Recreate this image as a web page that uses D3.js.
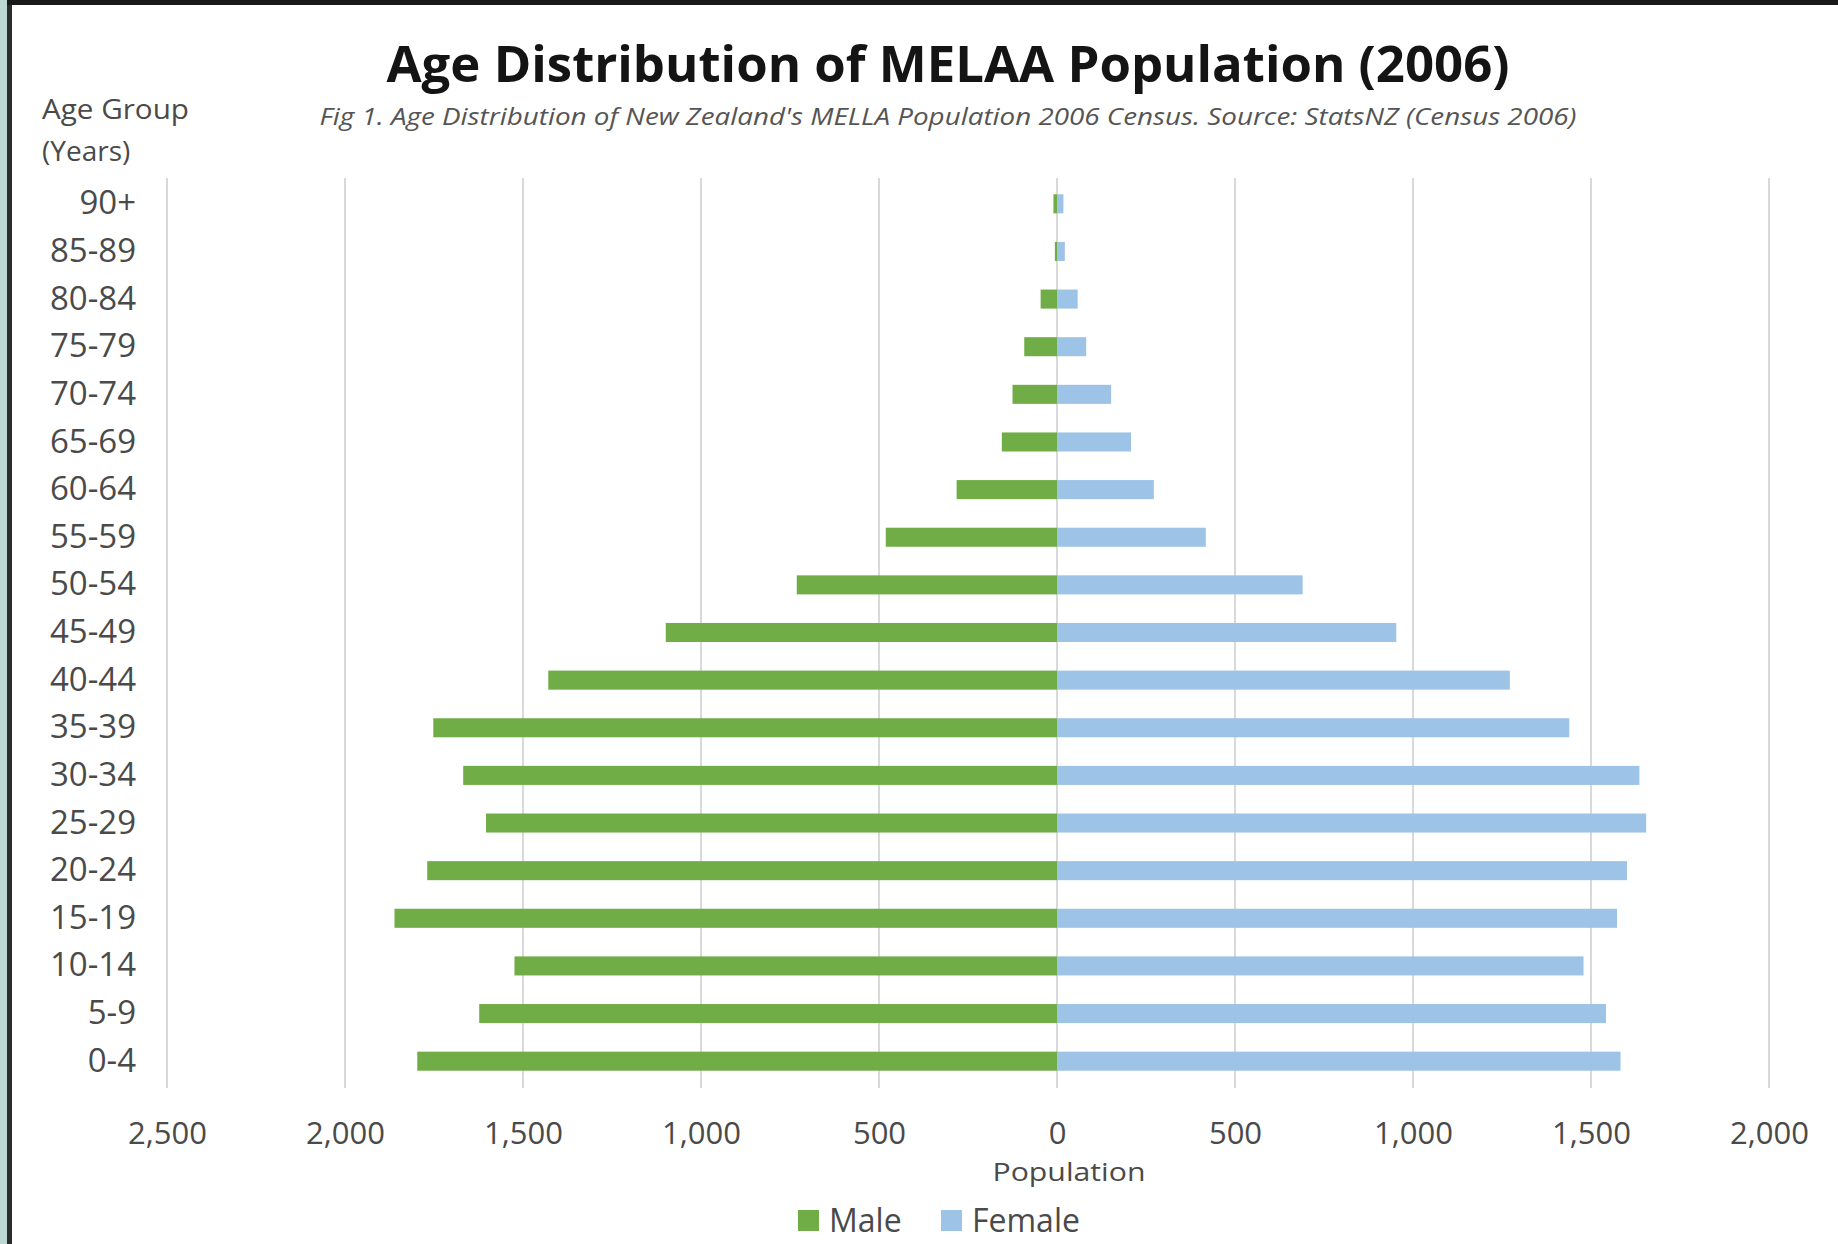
<!DOCTYPE html>
<html>
<head>
<meta charset="utf-8">
<script src="https://d3js.org/d3.v7.min.js"></script>
<style>
    body { margin: 0; background: #fff; }
    svg text { font-family: "Open Sans", sans-serif; }
</style>
</head>
<body>
<svg id="chart" width="1838" height="1244"></svg>
<script>
'use strict';

let MALE_COLOR = "#70AD47",
    FEMALE_COLOR = "#9DC3E6",
    TEXT_COLOR = "#4a4a4a";

// age groups, top of chart first
let ageGroups = ["90+", "85-89", "80-84", "75-79", "70-74", "65-69", "60-64", "55-59", "50-54",
    "45-49", "40-44", "35-39", "30-34", "25-29", "20-24", "15-19", "10-14", "5-9", "0-4"];
let male = [10, 6, 46, 92, 125, 155, 282, 481, 731, 1099, 1429, 1752, 1668, 1604, 1769, 1861, 1524, 1623, 1797];
let female = [18, 22, 58, 82, 152, 208, 272, 418, 690, 953, 1272, 1439, 1636, 1655, 1601, 1573, 1479, 1542, 1583];
let xTicks = [-2500, -2000, -1500, -1000, -500, 0, 500, 1000, 1500, 2000];

let svg = d3.select("#chart");

// frame round the picture
svg.append("rect").attr("x", 0).attr("y", 0).attr("width", 7).attr("height", 1244).attr("fill", "#bcd9d4");
svg.append("rect").attr("x", 7).attr("y", 0).attr("width", 5).attr("height", 1244).attr("fill", "#2b2b2b");
svg.append("rect").attr("x", 7).attr("y", 0).attr("width", 1831).attr("height", 5).attr("fill", "#1a1a1a");

let x = d3.scaleLinear().domain([-2500, 2000]).range([167, 1769]);
let y = d3.scaleBand().domain(ageGroups).range([180, 1085]).paddingInner(0.6).paddingOuter(0.3);

let gridTop = 178, gridBottom = 1088;

svg.append("g")
    .attr("class", "grid")
    .selectAll("line")
    .data(xTicks)
    .enter().append("line")
    .attr("x1", function(d) { return x(d); })
    .attr("x2", function(d) { return x(d); })
    .attr("y1", gridTop)
    .attr("y2", gridBottom)
    .style("stroke", "#d9d9d9")
    .style("stroke-width", 2);

let rows = ageGroups.map(function(a, i) {
    return { age: a, male: male[i], female: female[i] };
});

svg.append("g")
    .selectAll("rect")
    .data(rows)
    .enter().append("rect")
    .attr("x", function(d) { return x(-d.male); })
    .attr("y", function(d) { return y(d.age); })
    .attr("width", function(d) { return x(0) - x(-d.male); })
    .attr("height", y.bandwidth())
    .attr("fill", MALE_COLOR);

svg.append("g")
    .selectAll("rect")
    .data(rows)
    .enter().append("rect")
    .attr("x", x(0))
    .attr("y", function(d) { return y(d.age); })
    .attr("width", function(d) { return x(d.female) - x(0); })
    .attr("height", y.bandwidth())
    .attr("fill", FEMALE_COLOR);

// x axis labels (no line, no ticks)
let xAxis = d3.axisBottom(x)
    .tickValues(xTicks)
    .tickSize(0)
    .tickPadding(0)
    .tickFormat(function(d) { return d3.format(",")(Math.abs(d)); });

let gx = svg.append("g")
    .attr("transform", "translate(0,1122)")
    .call(xAxis);
gx.select(".domain").remove();
gx.selectAll("text")
    .attr("dy", "0.71em")
    .style("font-size", "31px")
    .style("font-family", "'Open Sans', sans-serif")
    .attr("fill", TEXT_COLOR);

// y axis labels
let yAxis = d3.axisLeft(y).tickSize(0).tickPadding(0);
let gy = svg.append("g")
    .attr("transform", "translate(136,0)")
    .call(yAxis);
gy.select(".domain").remove();
gy.selectAll("text")
    .style("font-size", "33px")
    .style("font-family", "'Open Sans', sans-serif")
    .attr("fill", TEXT_COLOR);

// titles
svg.append("text")
    .attr("x", 948)
    .attr("y", 82)
    .attr("text-anchor", "middle")
    .attr("textLength", 1123)
    .attr("lengthAdjust", "spacingAndGlyphs")
    .style("font-size", "50px")
    .style("font-weight", "bold")
    .attr("fill", "#141414")
    .text("Age Distribution of MELAA Population (2006)");

svg.append("text")
    .attr("x", 948)
    .attr("y", 125)
    .attr("text-anchor", "middle")
    .attr("textLength", 1257)
    .attr("lengthAdjust", "spacingAndGlyphs")
    .style("font-size", "23px")
    .style("font-style", "italic")
    .attr("fill", "#555")
    .text("Fig 1. Age Distribution of New Zealand's MELLA Population 2006 Census. Source: StatsNZ (Census 2006)");

svg.append("text")
    .attr("x", 42)
    .attr("y", 119)
    .attr("textLength", 147)
    .attr("lengthAdjust", "spacingAndGlyphs")
    .style("font-size", "28px")
    .attr("fill", TEXT_COLOR)
    .text("Age Group");

svg.append("text")
    .attr("x", 42)
    .attr("y", 161)
    .style("font-size", "28px")
    .attr("fill", TEXT_COLOR)
    .text("(Years)");

svg.append("text")
    .attr("x", 1069)
    .attr("y", 1181)
    .attr("text-anchor", "middle")
    .attr("textLength", 153)
    .attr("lengthAdjust", "spacingAndGlyphs")
    .style("font-size", "25px")
    .attr("fill", TEXT_COLOR)
    .text("Population");

// legend
let legend = [
    { name: "Male", color: MALE_COLOR, x: 798 },
    { name: "Female", color: FEMALE_COLOR, x: 941 }
];
let lg = svg.append("g")
    .selectAll("g")
    .data(legend)
    .enter().append("g")
    .attr("transform", function(d) { return "translate(" + d.x + ",1210)"; });
lg.append("rect")
    .attr("width", 21)
    .attr("height", 21)
    .attr("fill", function(d) { return d.color; });
lg.append("text")
    .attr("x", 31)
    .attr("y", 22)
    .style("font-size", "32px")
    .attr("fill", TEXT_COLOR)
    .text(function(d) { return d.name; });
</script>
</body>
</html>
